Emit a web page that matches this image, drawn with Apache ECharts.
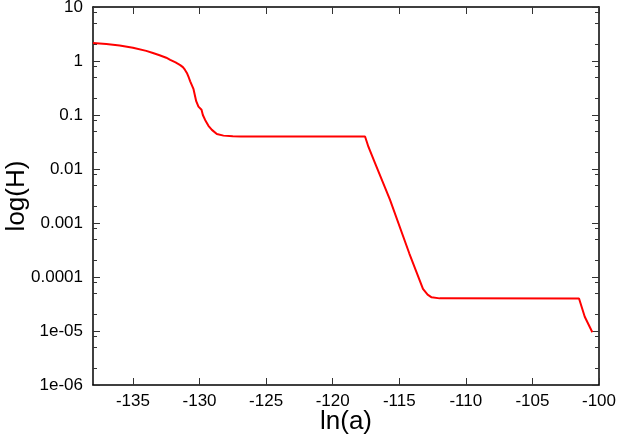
<!DOCTYPE html>
<html>
<head>
<meta charset="utf-8">
<script src="https://cdn.jsdelivr.net/npm/echarts@6/dist/echarts.min.js"></script>
<style>
  html, body { margin: 0; padding: 0; background: #fff; }
  #chart { width: 622px; height: 436px; }
</style>
</head>
<body>
<div id="chart"></div>
<script>
  // ln(a) values
  const lnA = [
    -138.0, -137.0, -136.0, -135.0, -134.0, -133.5, -133.0, -132.5, -132.2, -131.8,
    -131.45, -131.25, -131.1, -130.95, -130.8, -130.7, -130.45, -130.25, -130.08, -129.95,
    -129.85, -129.75, -129.58, -129.33, -129.07, -128.7, -128.2, -127.5, -126.9, -117.57,
    -117.44, -117.32, -116.82, -115.7, -114.25, -113.72, -113.22, -112.87, -112.57, -111.97,
    -101.5, -101.07, -100.5
  ];
  // H values (log axis)
  const hValues = [
    2.15, 2.06, 1.93, 1.76, 1.54, 1.41, 1.28, 1.15, 1.05, 0.94,
    0.84, 0.77, 0.69, 0.60, 0.49, 0.42, 0.30, 0.18, 0.143, 0.135,
    0.125, 0.10, 0.081, 0.063, 0.053, 0.0445, 0.0415, 0.0405, 0.040, 0.040,
    0.032, 0.0259, 0.0128, 0.0027, 0.000275, 0.000126, 0.000060, 0.000047, 0.000042, 0.0000402,
    0.000040, 0.0000184, 0.0000095
  ];

  const xTicks = [-135, -130, -125, -120, -115, -110, -105, -100];
  const yTickLabels = ['1e-06', '1e-05', '0.0001', '0.001', '0.01', '0.1', '1', '10'];
  const yMinorTicks = [
    2e-6, 5e-6, 8e-6, 2e-5, 5e-5, 8e-5, 2e-4, 5e-4, 8e-4,
    2e-3, 5e-3, 8e-3, 2e-2, 5e-2, 8e-2, 0.2, 0.5, 0.8, 2, 5, 8
  ];

  const FONT = '"Liberation Sans", Arial, Helvetica, sans-serif';
  const AXIS_LINE = { show: true, lineStyle: { color: '#000', width: 1.5 } };
  const TICK_COLOR = '#333';

  const chart = echarts.init(document.getElementById('chart'));

  const yLabel = (v) => {
    const e = Math.round(Math.log10(v));
    return yTickLabels[e + 6] ?? '';
  };

  const logY = (extra) => Object.assign({
    type: 'log',
    logBase: 10,
    min: 1e-6,
    max: 10,
    interval: 1,
    splitLine: { show: false },
    axisLine: AXIS_LINE,
    axisTick: { inside: true, length: 7, lineStyle: { color: TICK_COLOR, width: 1 } },
    axisLabel: { show: false },
  }, extra);

  const minorY = (position) => logY({
    position,
    axisLine: { show: false },
    axisTick: {
      inside: true,
      length: 4,
      customValues: yMinorTicks,
      lineStyle: { color: TICK_COLOR, width: 1 },
    },
  });

  const valueX = (extra) => Object.assign({
    type: 'value',
    min: -138,
    max: -100,
    splitLine: { show: false },
    axisLine: AXIS_LINE,
    axisTick: { inside: true, length: 7, customValues: xTicks, lineStyle: { color: TICK_COLOR, width: 1 } },
    axisLabel: { show: false },
  }, extra);

  const option = {
    backgroundColor: '#fff',
    animation: false,
    grid: { left: 93, right: 23, top: 7, bottom: 51, containLabel: false, outerBoundsMode: 'none' },
    xAxis: [
      valueX({
        position: 'bottom',
        name: 'ln(a)',
        nameLocation: 'middle',
        nameGap: 24,
        nameMoveOverlap: false,
        nameTextStyle: { fontFamily: FONT, fontSize: 26, color: '#000' },
        axisLabel: {
          show: true,
          customValues: xTicks,
          margin: 8,
          fontFamily: FONT,
          fontSize: 17,
          color: '#000',
        },
      }),
      valueX({ position: 'top' }),
    ],
    yAxis: [
      logY({
        position: 'left',
        name: 'log(H)',
        nameLocation: 'middle',
        nameGap: 63,
        nameMoveOverlap: false,
        nameTextStyle: { fontFamily: FONT, fontSize: 26, color: '#000' },
        axisLabel: {
          show: true,
          margin: 10,
          fontFamily: FONT,
          fontSize: 17,
          color: '#000',
          formatter: yLabel,
        },
      }),
      logY({ position: 'right' }),
      minorY('left'),
      minorY('right'),
    ],
    series: [
      {
        type: 'line',
        data: lnA.map((x, i) => [x, hValues[i]]),
        xAxisIndex: 0,
        yAxisIndex: 0,
        showSymbol: false,
        smooth: false,
        lineStyle: { color: '#ff0000', width: 2 },
        itemStyle: { color: '#ff0000' },
      },
    ],
  };

  chart.setOption(option);
</script>
</body>
</html>
